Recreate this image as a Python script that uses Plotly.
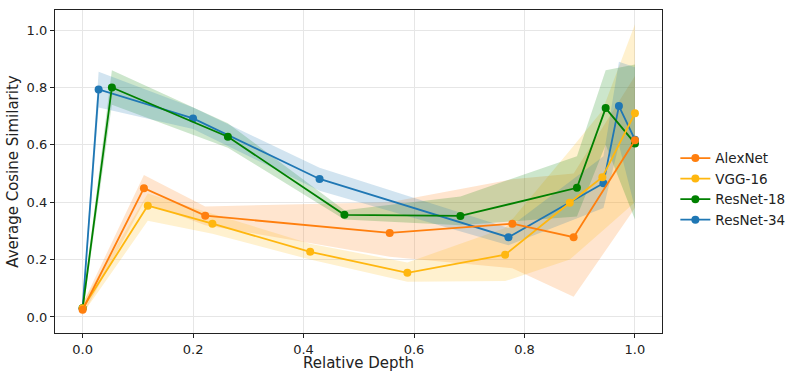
import plotly.graph_objects as go

# ---- data ----
series_names = ["AlexNet", "VGG-16", "ResNet-18", "ResNet-34"]

alex_x = [0.0, 0.111, 0.222, 0.556, 0.778, 0.889, 1.0]
alex_y = [0.025, 0.449, 0.353, 0.293, 0.325, 0.278, 0.616]
alex_lo = [0.005, 0.40, 0.32, 0.21, 0.17, 0.07, 0.38]
alex_hi = [0.045, 0.495, 0.385, 0.40, 0.48, 0.50, 0.84]

vgg_x = [0.0, 0.118, 0.235, 0.412, 0.588, 0.765, 0.882, 0.941, 1.0]
vgg_y = [0.03, 0.388, 0.325, 0.227, 0.154, 0.217, 0.398, 0.487, 0.71]
vgg_lo = [0.01, 0.335, 0.29, 0.20, 0.123, 0.125, 0.20, 0.30, 0.40]
vgg_hi = [0.05, 0.43, 0.36, 0.255, 0.19, 0.31, 0.58, 0.72, 1.02]

r18_x = [0.0, 0.053, 0.263, 0.474, 0.684, 0.895, 0.947, 1.0]
r18_y = [0.03, 0.80, 0.628, 0.356, 0.352, 0.45, 0.728, 0.605]
r18_lo = [0.01, 0.74, 0.59, 0.34, 0.32, 0.35, 0.60, 0.34]
r18_hi = [0.05, 0.86, 0.675, 0.372, 0.42, 0.56, 0.86, 0.88]

r34_x = [0.0, 0.029, 0.2, 0.429, 0.771, 0.943, 0.971, 1.0]
r34_y = [0.03, 0.793, 0.692, 0.481, 0.278, 0.466, 0.735, 0.618]
r34_lo = [0.01, 0.73, 0.655, 0.44, 0.25, 0.38, 0.60, 0.38]
r34_hi = [0.05, 0.855, 0.73, 0.52, 0.31, 0.56, 0.89, 0.87]

x_ticks = [0.0, 0.2, 0.4, 0.6, 0.8, 1.0]
y_ticks = [0.0, 0.2, 0.4, 0.6, 0.8, 1.0]

colors = {
    "AlexNet": (255, 127, 14),
    "VGG-16": (255, 183, 15),
    "ResNet-18": (0, 128, 0),
    "ResNet-34": (31, 119, 180),
}

data = {
    "AlexNet": (alex_x, alex_y, alex_lo, alex_hi),
    "VGG-16": (vgg_x, vgg_y, vgg_lo, vgg_hi),
    "ResNet-18": (r18_x, r18_y, r18_lo, r18_hi),
    "ResNet-34": (r34_x, r34_y, r34_lo, r34_hi),
}

fig = go.Figure()

draw_order = ["ResNet-34", "ResNet-18", "VGG-16", "AlexNet"]

# bands
for name in series_names:
    x, y, lo, hi = data[name]
    r, g, b = colors[name]
    fig.add_trace(go.Scatter(
        x=list(x) + list(x)[::-1],
        y=list(hi) + list(lo)[::-1],
        fill="toself",
        fillcolor=f"rgba({r},{g},{b},0.2)",
        line=dict(width=0),
        mode="lines",
        hoverinfo="skip",
        showlegend=False,
    ))

# lines
for name in draw_order:
    x, y, lo, hi = data[name]
    r, g, b = colors[name]
    fig.add_trace(go.Scatter(
        x=x, y=y, name=name,
        mode="lines+markers",
        line=dict(color=f"rgb({r},{g},{b})", width=1.8),
        marker=dict(color=f"rgb({r},{g},{b})", size=8),
    ))

axis_common = dict(
    showline=True, linecolor="#222222", linewidth=1.2, mirror=True,
    showgrid=True, gridcolor="#e6e6e6", gridwidth=1,
    ticks="outside", ticklen=4, tickcolor="#222222", tickwidth=1,
    zeroline=False, automargin=False,
    tickfont=dict(family="DejaVu Sans", size=13, color="#222222"),
    tickformat=".1f",
)

fig.update_layout(
    width=794, height=372,
    margin=dict(l=55, r=132, t=10, b=39, autoexpand=False),
    paper_bgcolor="white", plot_bgcolor="white",
    font=dict(family="DejaVu Sans", color="#222222"),
    xaxis=dict(range=[-0.05, 1.049], tickvals=x_ticks,
               title=dict(text="Relative Depth", font=dict(size=15), standoff=0),
               **axis_common),
    yaxis=dict(range=[-0.056, 1.07], tickvals=y_ticks,
               title=dict(text="Average Cosine Similarity", font=dict(size=15), standoff=4),
               **axis_common),
    legend=dict(
        x=1.022, xanchor="left", y=0.445, yanchor="middle",
        font=dict(family="DejaVu Sans", size=13.5, color="#222222"),
        traceorder="reversed",
        bgcolor="rgba(0,0,0,0)",
        itemwidth=30,
    ),
)

fig.write_html("out.html")
